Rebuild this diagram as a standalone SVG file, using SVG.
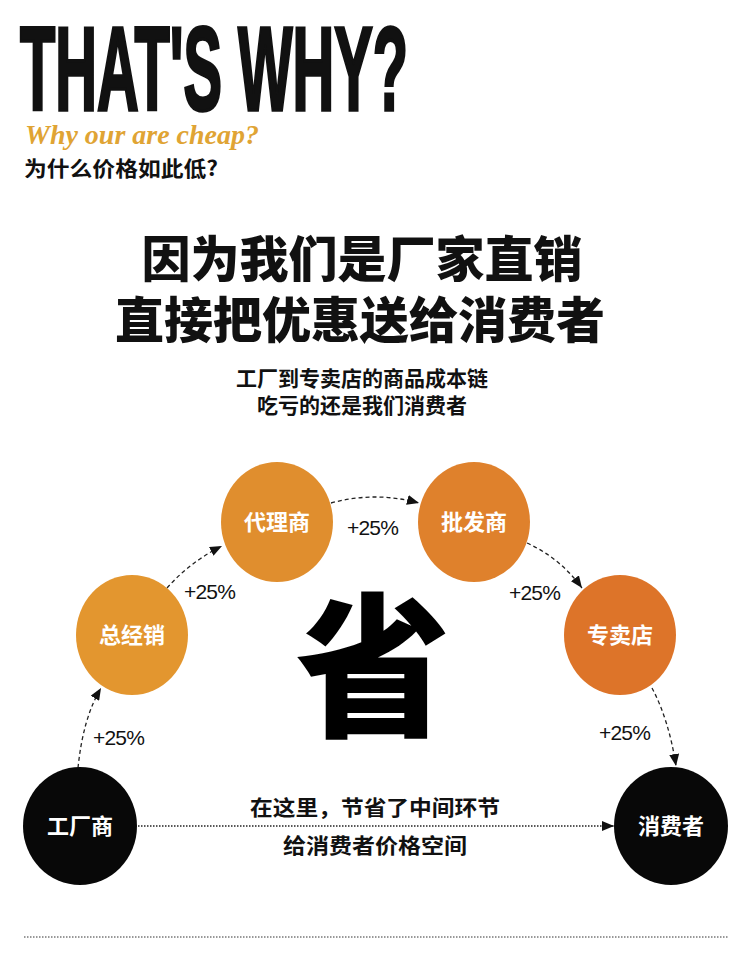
<svg xmlns="http://www.w3.org/2000/svg" width="750" height="979" viewBox="0 0 750 979">
<style>
.cjk{font-family:"Noto Sans CJK SC","Noto Sans",sans-serif}
.node-label{font-family:"Noto Sans CJK SC",sans-serif;font-weight:700;font-size:22px;fill:#fff;text-anchor:middle}
.pct{font-family:"Liberation Sans","Noto Sans",sans-serif;font-size:21px;fill:#111;letter-spacing:-0.8px}
.conn{fill:none;stroke:#222;stroke-width:1.3;stroke-dasharray:4 3}
</style>
<defs>
<marker id="arrow" viewBox="0 0 12 10" refX="12" refY="5" markerWidth="12" markerHeight="10" markerUnits="userSpaceOnUse" orient="auto">
<path d="M0,0 L12,5 L0,10 Z" fill="#111"/>
</marker>
</defs>
<rect width="750" height="979" fill="#fff"/>

<g id="header">
<text x="20" y="110" font-family="Liberation Sans, Arial, sans-serif" font-weight="700" font-size="119" fill="#111" stroke="#111" stroke-width="3.5" textLength="388" lengthAdjust="spacingAndGlyphs">THAT'S WHY?</text>
<text x="25" y="144" font-family="Liberation Serif, serif" font-style="italic" font-weight="700" font-size="28" fill="#E0A434" textLength="234" lengthAdjust="spacingAndGlyphs">Why our are cheap?</text>
<text x="24" y="176" class="cjk" font-weight="700" font-size="21" fill="#111" textLength="194" lengthAdjust="spacingAndGlyphs">为什么价格如此低?</text>
</g>

<g id="title">
<text x="362" y="277" class="cjk" font-weight="900" font-size="49" fill="#111" text-anchor="middle">因为我们是厂家直销</text>
<text x="360" y="338" class="cjk" font-weight="900" font-size="49" fill="#111" text-anchor="middle">直接把优惠送给消费者</text>
<text x="362" y="386" class="cjk" font-weight="700" font-size="21" fill="#111" text-anchor="middle">工厂到专卖店的商品成本链</text>
<text x="362" y="413" class="cjk" font-weight="700" font-size="21" fill="#111" text-anchor="middle">吃亏的还是我们消费者</text>
</g>

<g id="sheng">
<text x="373" y="724" class="cjk" font-weight="900" font-size="155" fill="#000" text-anchor="middle">省</text>
</g>

<g id="connectors">
<path class="conn" d="M78,768 Q83,718 101,688" marker-end="url(#arrow)"/>
<path class="conn" d="M167,588 Q190,562 222,546" marker-end="url(#arrow)"/>
<path class="conn" d="M331,503 Q375,491 419,503" marker-end="url(#arrow)"/>
<path class="conn" d="M527,543 Q560,558 582,588" marker-end="url(#arrow)"/>
<path class="conn" d="M652,688 Q669,720 676,766" marker-end="url(#arrow)"/>
<path d="M138,826 L614,826" fill="none" stroke="#222" stroke-width="1.3" stroke-dasharray="1.5 1.5" marker-end="url(#arrow)"/>
<text class="pct" x="93" y="745">+25%</text>
<text class="pct" x="184" y="599">+25%</text>
<text class="pct" x="347" y="535">+25%</text>
<text class="pct" x="509" y="600">+25%</text>
<text class="pct" x="599" y="740">+25%</text>
</g>

<g id="node-gongchangshang">
<ellipse cx="80" cy="826" rx="57" ry="59" fill="#080808"/>
<text class="node-label" x="80" y="834">工厂商</text>
</g>
<g id="node-zongjingxiao">
<ellipse cx="132" cy="635" rx="56" ry="60" fill="#E3962F"/>
<text class="node-label" x="132" y="643">总经销</text>
</g>
<g id="node-dailishang">
<ellipse cx="277" cy="522" rx="56" ry="60" fill="#E08E2E"/>
<text class="node-label" x="277" y="530">代理商</text>
</g>
<g id="node-pifashang">
<ellipse cx="474" cy="522" rx="56" ry="60" fill="#DF812C"/>
<text class="node-label" x="474" y="530">批发商</text>
</g>
<g id="node-zhuanmaidian">
<ellipse cx="620" cy="635" rx="56" ry="60" fill="#DD7429"/>
<text class="node-label" x="620" y="643">专卖店</text>
</g>
<g id="node-xiaofeizhe">
<ellipse cx="671" cy="826" rx="57" ry="59" fill="#080808"/>
<text class="node-label" x="671" y="834">消费者</text>
</g>

<g id="middle-text">
<text x="375" y="815" class="cjk" font-weight="700" font-size="21" fill="#111" text-anchor="middle" textLength="250" lengthAdjust="spacingAndGlyphs">在这里，节省了中间环节</text>
<text x="375" y="853" class="cjk" font-weight="700" font-size="21" fill="#111" text-anchor="middle" textLength="184" lengthAdjust="spacingAndGlyphs">给消费者价格空间</text>
</g>

<g id="footer">
<path d="M24,937 L728,937" fill="none" stroke="#333" stroke-width="1" stroke-dasharray="1.5 1.5"/>
</g>
</svg>
